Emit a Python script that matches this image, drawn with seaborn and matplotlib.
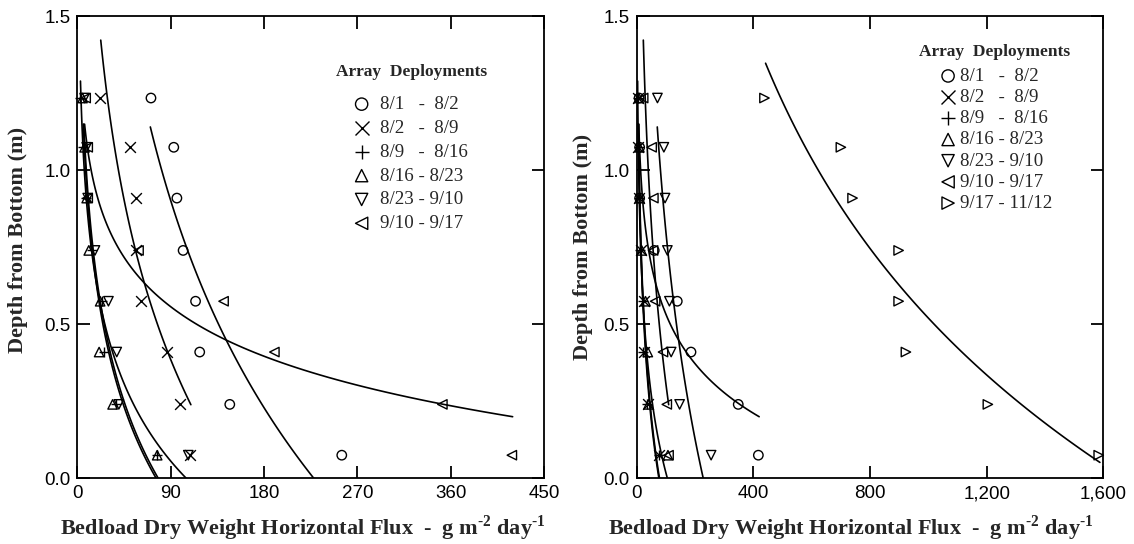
import numpy as np
import pandas as pd
import matplotlib
matplotlib.use("Agg")
import matplotlib.pyplot as plt
import seaborn as sns
from matplotlib.ticker import FuncFormatter, FixedLocator

# ---------------- data ----------------
DEPTH = [1.235, 1.075, 0.91, 0.74, 0.575, 0.41, 0.24, 0.075]   # m above bottom

LABELS = ["8/1   -  8/2", "8/2   -  8/9", "8/9   -  8/16", "8/16 - 8/23",
          "8/23 - 9/10", "9/10 - 9/17", "9/17 - 11/12"]
MARKERS = ["o", "x", "+", "^", "v", "<", ">"]

# left panel fluxes (g m-2 day-1), one list per symbol
LEFT_CIRCLE   = [71, 93, 96, 102, 114, 118, 147, 255]
LEFT_CROSS    = [22, 51, 57, 57, 61, 86, 99, 109]
LEFT_PLUS     = [3, 5, 8, 14, 24, 26, 37, 77]
LEFT_TRI_UP   = [5, 7, 9, 11, 22, 21, 34, 77]
LEFT_TRI_DOWN = [7, 9, 10, 17, 30, 38, 40, 107]
LEFT_TRI_LEFT = [8, 10, 10, 59, 141, 190, 352, 419]

# right panel fluxes (g m-2 day-1), one list per symbol
RIGHT_CIRCLE    = [8, 10, 10, 60, 139, 186, 348, 417]
RIGHT_CROSS     = [3, 5, 8, 14, 24, 26, 37, 77]
RIGHT_PLUS      = [5, 7, 9, 11, 22, 21, 34, 77]
RIGHT_TRI_UP    = [7, 9, 10, 17, 30, 38, 40, 107]
RIGHT_TRI_DOWN  = [71, 93, 97, 105, 112, 118, 147, 255]
RIGHT_TRI_LEFT  = [22, 51, 57, 56, 63, 90, 103, 109]
RIGHT_TRI_RIGHT = [438, 700, 740, 898, 898, 923, 1204, 1584]

# fitted exponential profiles:
# flux = F0 * exp(-K * depth), drawn between depth Z_LO and Z_HI
LEFT_F0  = [228, 150.6, 76, 78, 105, 994]
LEFT_K   = [1.03, 1.334, 2.25, 2.2, 2.75, 4.31]
LEFT_ZLO = [0.0, 0.239, 0.0, 0.0, 0.0, 0.2]
LEFT_ZHI = [1.141, 1.423, 1.15, 1.15, 1.29, 1.15]

RIGHT_F0  = [994, 76, 78, 105, 228, 150.6, 1671]
RIGHT_K   = [4.31, 2.25, 2.2, 2.75, 1.03, 1.334, 0.987]
RIGHT_ZLO = [0.2, 0.0, 0.0, 0.0, 0.0, 0.239, 0.0516]
RIGHT_ZHI = [1.15, 1.15, 1.15, 1.29, 1.141, 1.423, 1.348]

LEFT_XTICKS = [0, 90, 180, 270, 360, 450]
RIGHT_XTICKS = [0, 400, 800, 1200, 1600]
YTICKS = [0.0, 0.5, 1.0, 1.5]

XLABEL = r"Bedload Dry Weight Horizontal Flux  -  g m$^{\text{-2}}$ day$^{\text{-1}}$"
YLABEL = "Depth from Bottom (m)"
LEG_TITLE = "Array  Deployments"

# ---------------- styling ----------------
sns.set_style("ticks")
plt.rcParams["font.family"] = ["Liberation Sans", "DejaVu Sans"]
plt.rcParams["mathtext.fontset"] = "custom"
plt.rcParams["mathtext.rm"] = "Liberation Serif:bold"

SERIF = ["Liberation Serif", "DejaVu Serif"]

fig = plt.figure(figsize=(11.34, 5.44), dpi=100)
ax1 = fig.add_axes([0.0682, 0.1208, 0.4115, 0.849])
ax2 = fig.add_axes([0.5615, 0.1208, 0.4115, 0.849])


def draw_panel(ax, series, f0, kk, zlo, zhi):
    for vals, mk, lab in series:
        sub = pd.DataFrame({"flux": vals, "depth": DEPTH})
        if mk in ("x", "+"):
            sns.scatterplot(data=sub, x="flux", y="depth", marker=mk, s=60,
                            color="black", linewidth=1.0, ax=ax, label=lab,
                            clip_on=False, zorder=3)
        else:
            sns.scatterplot(data=sub, x="flux", y="depth", marker=mk, s=46,
                            facecolor="none", edgecolor="black", linewidth=1.0,
                            ax=ax, label=lab, clip_on=False, zorder=3)
    for a, b, lo, hi in zip(f0, kk, zlo, zhi):
        z = np.linspace(lo, hi, 120)
        cur = pd.DataFrame({"flux": a * np.exp(-b * z), "depth": z})
        sns.lineplot(data=cur, x="flux", y="depth", sort=False, estimator=None,
                     color="black", linewidth=1.2, ax=ax, legend=False)


left_series = list(zip([LEFT_CIRCLE, LEFT_CROSS, LEFT_PLUS, LEFT_TRI_UP,
                        LEFT_TRI_DOWN, LEFT_TRI_LEFT], MARKERS[:6], LABELS[:6]))
right_series = list(zip([RIGHT_CIRCLE, RIGHT_CROSS, RIGHT_PLUS, RIGHT_TRI_UP,
                         RIGHT_TRI_DOWN, RIGHT_TRI_LEFT, RIGHT_TRI_RIGHT],
                        MARKERS, LABELS))

draw_panel(ax1, left_series, LEFT_F0, LEFT_K, LEFT_ZLO, LEFT_ZHI)
draw_panel(ax2, right_series, RIGHT_F0, RIGHT_K, RIGHT_ZLO, RIGHT_ZHI)

ax1.set_xlim(0, 450)
ax2.set_xlim(0, 1600)
ax2.xaxis.set_major_formatter(FuncFormatter(lambda v, p: f"{v:,.0f}"))
ax1.xaxis.set_major_locator(FixedLocator(LEFT_XTICKS))
ax2.xaxis.set_major_locator(FixedLocator(RIGHT_XTICKS))

for ax in (ax1, ax2):
    ax.set_ylim(0, 1.5)
    ax.yaxis.set_major_locator(FixedLocator(YTICKS))
    ax.yaxis.set_major_formatter(FuncFormatter(lambda v, p: f"{v:.1f}"))
    for sp in ax.spines.values():
        sp.set_visible(True)
        sp.set_linewidth(1.3)
        sp.set_color("black")
    ax.tick_params(axis="both", which="major", direction="in", length=9,
                   width=1.3, top=True, right=True, labelsize=13.5,
                   colors="black", pad=5)
    ax.set_xlabel(XLABEL, fontsize=16, fontweight="bold", family=SERIF)
    ax.set_ylabel(YLABEL, fontsize=16, fontweight="bold", family=SERIF)
    ax.set_facecolor("white")

ax1.xaxis.set_label_coords(0.4826, -0.077)
ax2.xaxis.set_label_coords(0.459, -0.077)
ax1.yaxis.set_label_coords(-0.106, 0.516)
ax2.yaxis.set_label_coords(-0.0936, 0.50)

# legends
leg1 = ax1.legend(loc="upper left", bbox_to_anchor=(0.589, 0.828),
                  frameon=False, borderpad=0, borderaxespad=0,
                  handlelength=1.0, handletextpad=0.48, labelspacing=0.35,
                  markerscale=1.3, prop={"family": SERIF, "size": 13.6})
ax1.text(0.716, 0.8794, LEG_TITLE, transform=ax1.transAxes, ha="center",
         va="center", fontsize=12.5, fontweight="bold", family=SERIF)

leg2 = ax2.legend(loc="upper left", bbox_to_anchor=(0.651, 0.889),
                  frameon=False, borderpad=0, borderaxespad=0,
                  handlelength=0.8, handletextpad=0.24, labelspacing=0.21,
                  markerscale=1.3, prop={"family": SERIF, "size": 13.6})
ax2.text(0.7674, 0.922, LEG_TITLE, transform=ax2.transAxes, ha="center",
         va="center", fontsize=12.5, fontweight="bold", family=SERIF)

fig.savefig("out.png", dpi=100, facecolor="white")
